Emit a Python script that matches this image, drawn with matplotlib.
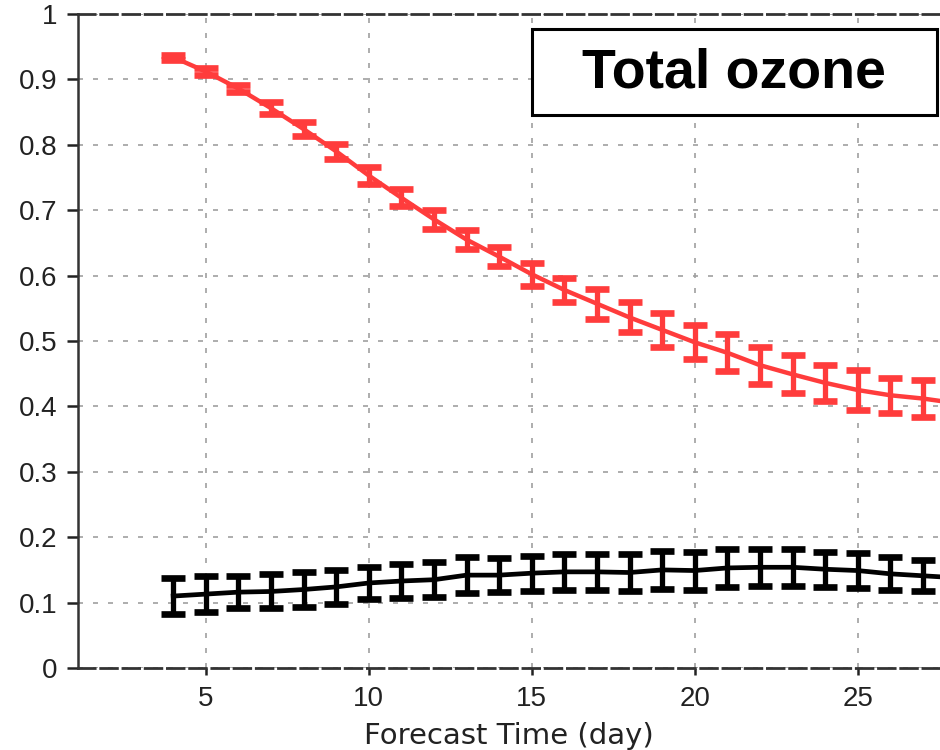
import matplotlib
matplotlib.use("Agg")
import matplotlib.pyplot as plt
from matplotlib.patches import Rectangle

plt.rcParams['font.family'] = ['Liberation Sans', 'DejaVu Sans']

days = list(range(4, 29))
red_vals = [0.934, 0.912, 0.886, 0.856, 0.824, 0.790, 0.753, 0.719, 0.686, 0.655,
            0.629, 0.602, 0.578, 0.557, 0.536, 0.517, 0.498, 0.482, 0.463, 0.449,
            0.436, 0.425, 0.417, 0.412, 0.405]
red_err = [0.004, 0.006, 0.006, 0.009, 0.011, 0.011, 0.013, 0.013, 0.015, 0.014,
           0.015, 0.018, 0.018, 0.023, 0.023, 0.026, 0.026, 0.028, 0.028, 0.029,
           0.027, 0.030, 0.027, 0.028, 0.028]
black_vals = [0.110, 0.113, 0.116, 0.117, 0.120, 0.124, 0.130, 0.133, 0.135, 0.142,
              0.142, 0.145, 0.147, 0.147, 0.146, 0.150, 0.149, 0.153, 0.154, 0.154,
              0.151, 0.149, 0.144, 0.141, 0.138]
black_err = [0.028, 0.028, 0.025, 0.026, 0.027, 0.026, 0.024, 0.026, 0.027, 0.027,
             0.026, 0.027, 0.028, 0.028, 0.028, 0.029, 0.029, 0.029, 0.028, 0.028,
             0.027, 0.027, 0.025, 0.024, 0.024]

xticks = [5, 10, 15, 20, 25]
yticks = [0, 0.1, 0.2, 0.3, 0.4, 0.5, 0.6, 0.7, 0.8, 0.9, 1]
ytick_labels = ['0', '0.1', '0.2', '0.3', '0.4', '0.5', '0.6', '0.7', '0.8', '0.9', '1']
title_text = "Total ozone"
xlabel_text = "Forecast Time (day)"

fig = plt.figure(figsize=(9.4, 7.5), dpi=100)
ax = fig.add_axes([78 / 940, 1 - 668 / 750, 1 - 78 / 940, (668 - 14) / 750])

red = '#ff3c3c'
ax.errorbar(days, red_vals, yerr=red_err, color=red, lw=3.2, elinewidth=3.8,
            capsize=8.3, capthick=4.8, zorder=3)
ax.errorbar(days, black_vals, yerr=black_err, color='black', lw=3.4, elinewidth=3.8,
            capsize=8.3, capthick=4.8, zorder=3)

ax.set_xlim(1.08, 1.08 + (940 - 78) / 32.6)
ax.set_ylim(0, 1)
ax.set_xticks(xticks)
ax.set_xticklabels([str(t) for t in xticks])
ax.set_yticks(yticks)
ax.set_yticklabels(ytick_labels)

ax.grid(True, color='#a0a0a0', linestyle=(0, (3, 6)), lw=1.2, zorder=0)

ax.spines['right'].set_visible(False)
ax.spines['left'].set_color('#333333')
ax.spines['left'].set_linewidth(1.8)
for s in ('top', 'bottom'):
    ax.spines[s].set_linestyle((0, (6, 2)))
    ax.spines[s].set_linewidth(2)
    ax.spines[s].set_color('#333333')

ax.tick_params(axis='y', direction='out', length=8, width=1.8, pad=7,
               labelsize=20, colors='#222222')
ax.tick_params(axis='x', direction='out', length=5, width=1.8, pad=8,
               labelsize=20, colors='#222222')
ax.set_xlabel(xlabel_text, fontsize=21, color='#222222', labelpad=7,
              family=['DejaVu Sans'])

fig.patches.append(Rectangle((532 / 940, 1 - 115 / 750), 405 / 940, 86 / 750,
                             transform=fig.transFigure, fill=True, facecolor='white',
                             edgecolor='black', lw=2.2, zorder=5))
fig.text(734 / 940, 1 - 74 / 750, title_text, fontsize=40, fontweight='bold',
         ha='center', va='center', zorder=6)

fig.savefig('out.png', dpi=100)
